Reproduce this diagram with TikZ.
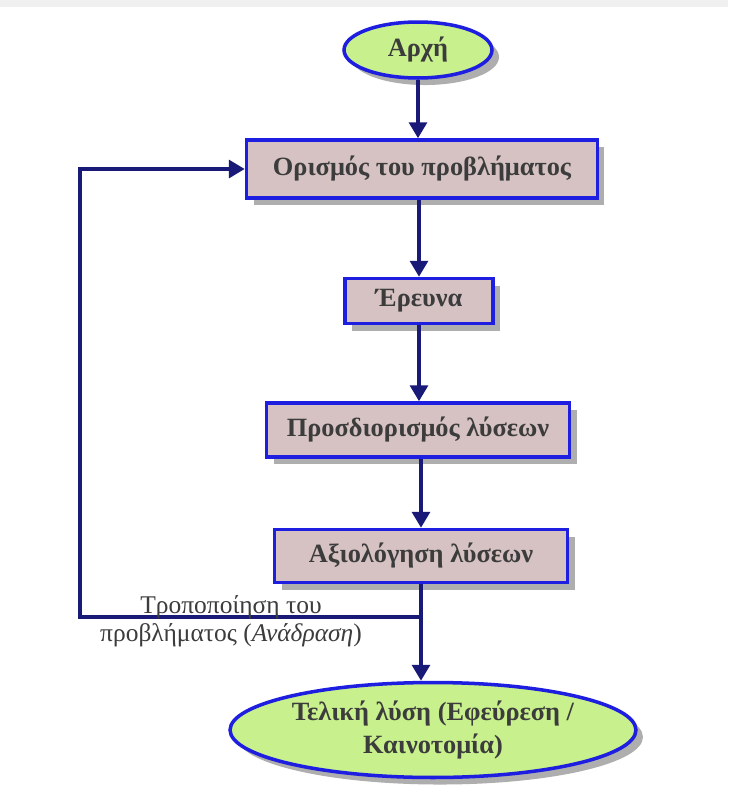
\documentclass[tikz,border=0pt]{standalone}
\usepackage{fontspec}
\setmainfont{Liberation Serif}
\usepackage{tikz}
\usetikzlibrary{shapes.geometric,arrows.meta,positioning,calc,shadows}
\definecolor{flownavy}{RGB}{25,25,120}
\definecolor{flowblue}{RGB}{30,30,225}
\definecolor{boxrose}{RGB}{214,194,194}
\definecolor{termgreen}{RGB}{200,240,140}
\definecolor{txtgrey}{RGB}{60,60,60}
\begin{document}
\begin{tikzpicture}[x=0.02cm, y=-0.02cm,
    taskbox/.style={rectangle, draw=flowblue, line width=2pt, fill=boxrose,
                 inner sep=0pt, align=center, text=txtgrey,
                 font=\fontsize{15}{18}\selectfont\bfseries,
                 drop shadow={shadow xshift=4pt, shadow yshift=-4pt, fill=black!45, opacity=0.7}},
    termnode/.style={ellipse, draw=flowblue, line width=2pt, fill=termgreen,
                 inner sep=0pt, align=center, text=txtgrey,
                 font=\fontsize{15}{19}\selectfont\bfseries,
                 drop shadow={shadow xshift=4pt, shadow yshift=-4pt, fill=black!45, opacity=0.7}},
    arr/.style={-{Triangle[length=9pt, width=10pt]}, line width=2.2pt, flownavy},
    wire/.style={line width=2.2pt, flownavy}
]
\useasboundingbox (0,0) rectangle (728,785);
\fill[white] (0,0) rectangle (728,785);
\fill[gray!12] (0,0) rectangle (728,7);

\node[termnode, minimum width=2.96cm, minimum height=1.12cm] (start) at (418,50) {Αρχή};
\node[taskbox, minimum width=7.02cm, minimum height=1.16cm] (define) at (422,169) {Ορισμός του προβλήματος};
\node[taskbox, minimum width=2.96cm, minimum height=0.9cm] (research) at (419,301) {Έρευνα};
\node[taskbox, minimum width=6.06cm, minimum height=1.08cm] (solve) at (418,430) {Προσδιορισμός λύσεων};
\node[taskbox, minimum width=5.86cm, minimum height=1.06cm] (assess) at (421,556) {Αξιολόγηση λύσεων};
\node[termnode, minimum width=8.12cm, minimum height=1.9cm] (final) at (433,730) {Τελική λύση (Εφεύρεση /\\Καινοτομία)};

\coordinate (split) at (421,617);

\draw[arr] (start.south) -- (start.south |- define.north);
\draw[arr] (research.north |- define.south) -- (research.north);
\draw[arr] (research.south) -- (research.south |- solve.north);
\draw[arr] (assess.north |- solve.south) -- (assess.north);
\draw[wire] (assess.south) -- (split);
\draw[arr] (split) -- (split |- final.north);
\draw[arr] (split) -- ++(-341,0) |- (define.west);

\node[font=\fontsize{14.5}{16}\selectfont, text=txtgrey, align=center] (fbnote) at (231,621)
    {Τροποποίηση του\\προβλήματος (\textit{Ανάδραση})};
\end{tikzpicture}
\end{document}
